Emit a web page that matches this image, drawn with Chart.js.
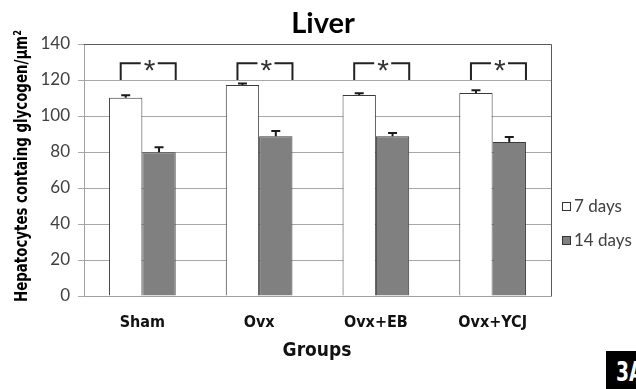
<!DOCTYPE html>
<html>
<head>
<meta charset="utf-8">
<script src="https://cdn.jsdelivr.net/npm/chart.js@4.4.1/dist/chart.umd.min.js"></script>
<style>
  html, body { margin: 0; padding: 0; background: #fff; }
  #wrap { position: relative; width: 636px; height: 389px; overflow: hidden; }
  #badge { position: absolute; left: 606px; top: 351px; width: 40px; height: 40px; background: #000; overflow: hidden; }
  #badge span { position: absolute; left: 10px; top: 8px; color: #fff; font: bold 26px "Liberation Sans Narrow", "DejaVu Sans Condensed", sans-serif;
    line-height: 26px; white-space: nowrap; display: inline-block; transform: scaleX(0.8); transform-origin: 0 0; }
</style>
</head>
<body>
<div id="wrap">
  <canvas id="c" width="636" height="389"></canvas>
  <div id="badge"><span>3A</span></div>
</div>
<script>
const categories = ['Sham', 'Ovx', 'Ovx+EB', 'Ovx+YCJ'];
const days7 = [110.2, 117.2, 111.7, 112.8];
const days7Err = [1.3, 0.9, 0.9, 1.5];
const days14 = [79.8, 88.7, 88.7, 85.6];
const days14Err = [2.8, 3.0, 1.9, 2.7];
const yTicks = [0, 20, 40, 60, 80, 100, 120, 140];
const bracketBase = 120;
const bracketTop = 129.3;
const seriesNames = ['7 days', '14 days'];

const NARROW = '"Liberation Sans Narrow", "DejaVu Sans Condensed", sans-serif';
const TXT = 'Lato, "Open Sans", sans-serif';

const errs = [days7Err, days14Err];

const drawPlugin = {
  id: 'extras',
  afterDatasetsDraw(chart) {
    const ctx = chart.ctx;
    const ys = chart.scales.y;
    const area = chart.chartArea;
    ctx.save();
    // plot border top/right
    ctx.strokeStyle = '#5a5a5a';
    ctx.lineWidth = 1;
    ctx.beginPath();
    ctx.moveTo(area.left, area.top + 0.5);
    ctx.lineTo(area.right + 0.5, area.top + 0.5);
    ctx.lineTo(area.right + 0.5, area.bottom);
    ctx.stroke();

    // error bars
    ctx.strokeStyle = '#1a1a1a';
    ctx.lineWidth = 2;
    chart.data.datasets.forEach((ds, di) => {
      const meta = chart.getDatasetMeta(di);
      meta.data.forEach((el, i) => {
        const top = ys.getPixelForValue(ds.data[i] + errs[di][i]);
        ctx.beginPath();
        ctx.moveTo(el.x, el.y);
        ctx.lineTo(el.x, top);
        ctx.moveTo(el.x - 4.5, top);
        ctx.lineTo(el.x + 4.5, top);
        ctx.stroke();
      });
    });

    // significance brackets
    const m0 = chart.getDatasetMeta(0), m1 = chart.getDatasetMeta(1);
    const yb = ys.getPixelForValue(bracketBase);
    const yt = ys.getPixelForValue(bracketTop);
    categories.forEach((c, i) => {
      const e0 = m0.data[i], e1 = m1.data[i];
      const left = e0.x - 5;
      const right = e1.x + e1.width / 2;
      const mid = (left + right) / 2 + 1.5;
      ctx.strokeStyle = '#222';
      ctx.lineWidth = 2;
      ctx.beginPath();
      ctx.moveTo(left, yb);
      ctx.lineTo(left, yt);
      ctx.lineTo(mid - 9, yt);
      ctx.moveTo(mid + 8, yt);
      ctx.lineTo(right, yt);
      ctx.lineTo(right, yb);
      ctx.stroke();
      ctx.fillStyle = '#333';
      ctx.font = '30px "Liberation Sans", sans-serif';
      ctx.textAlign = 'center';
      ctx.textBaseline = 'alphabetic';
      ctx.fillText('*', mid, yt + 17);
    });

    // title
    ctx.fillStyle = '#000';
    ctx.font = 'bold 29px ' + TXT;
    ctx.textAlign = 'center';
    ctx.textBaseline = 'alphabetic';
    ctx.fillText('Liver', 323, 33);

    // y axis title (rotated)
    ctx.save();
    ctx.translate(22, 166);
    ctx.rotate(-Math.PI / 2);
    ctx.font = 'bold 18px ' + NARROW;
    const yTitle = 'Hepatocytes containg glycogen/\u00b5m\u00b2';
    const w = ctx.measureText(yTitle).width;
    ctx.scale(272 / w, 1);
    ctx.textAlign = 'center';
    ctx.textBaseline = 'middle';
    ctx.fillStyle = '#000';
    ctx.fillText(yTitle, 0, 0);
    ctx.restore();

    // x axis title
    ctx.font = 'bold 19px ' + NARROW;
    ctx.fillStyle = '#111';
    ctx.textAlign = 'center';
    ctx.textBaseline = 'middle';
    ctx.fillText('Groups', 317, 351);

    // legend
    const fills = ['#ffffff', '#808080'];
    const rows = [202, 236];
    ctx.font = '17px ' + TXT;
    ctx.textAlign = 'left';
    ctx.textBaseline = 'middle';
    seriesNames.forEach((n, k) => {
      ctx.fillStyle = fills[k];
      ctx.fillRect(562, rows[k], 9, 9);
      ctx.strokeStyle = '#333';
      ctx.lineWidth = 1;
      ctx.strokeRect(562.5, rows[k] + 0.5, 8, 8);
      ctx.fillStyle = '#404040';
      ctx.fillText(n, 574, rows[k] + 5);
    });
    ctx.restore();
  }
};

new Chart(document.getElementById('c'), {
  type: 'bar',
  data: {
    labels: categories,
    datasets: [
      { label: seriesNames[0], data: days7, backgroundColor: '#ffffff', borderColor: '#3a3a3a', borderWidth: 1 },
      { label: seriesNames[1], data: days14, backgroundColor: '#808080', borderColor: '#3a3a3a', borderWidth: 1 }
    ]
  },
  options: {
    responsive: false,
    animation: false,
    devicePixelRatio: 1,
    categoryPercentage: 0.571,
    barPercentage: 1,
    layout: { padding: { top: 44, right: 85, left: 0, bottom: 0 } },
    plugins: { legend: { display: false }, title: { display: false }, tooltip: { enabled: false } },
    scales: {
      x: {
        grid: { display: false, drawTicks: false },
        border: { display: true, color: '#a0a0a0', width: 1 },
        ticks: { color: '#111', padding: 17, font: { family: NARROW, size: 16, weight: 'bold' } },
        afterFit(s) { s.height = 93; }
      },
      y: {
        min: 0, max: 140,
        afterBuildTicks(s) { s.ticks = yTicks.map(v => ({ value: v })); },
        grid: { color: '#a8a8a8', lineWidth: 1, tickLength: 6 },
        border: { display: true, color: '#a0a0a0', width: 1 },
        ticks: { color: '#404040', padding: 8, font: { family: TXT, size: 17 } },
        afterFit(s) { s.width = 84; }
      }
    }
  },
  plugins: [drawPlugin]
});
</script>
</body>
</html>
